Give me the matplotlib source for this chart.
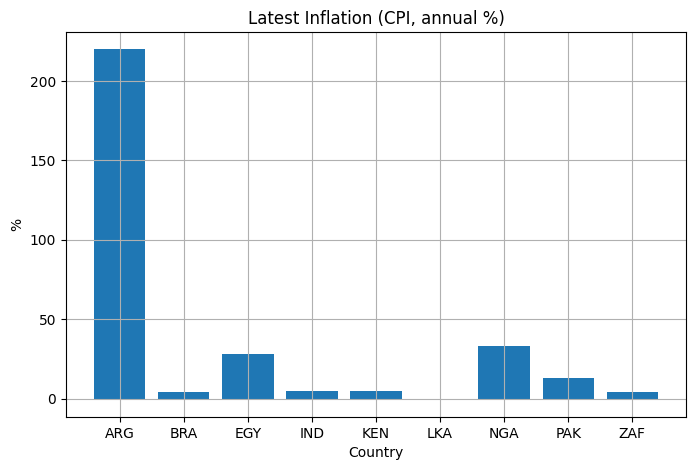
import matplotlib
matplotlib.use("Agg")
import matplotlib.pyplot as plt

# latest CPI inflation, annual %
countries = ["ARG", "BRA", "EGY", "IND", "KEN", "LKA", "NGA", "PAK", "ZAF"]
inflation = [219.9, 4.4, 28.3, 5.0, 5.0, -0.4, 33.3, 13.2, 4.4]

fig, ax = plt.subplots(figsize=(6.95, 4.7), dpi=100)
ax.bar(countries, inflation, color="#1f77b4")
ax.set_title("Latest Inflation (CPI, annual %)")
ax.set_xlabel("Country")
ax.set_ylabel("%")
ax.grid(True)

fig.subplots_adjust(left=0.095, right=0.987, top=0.932, bottom=0.113)
plt.savefig("out.png")
